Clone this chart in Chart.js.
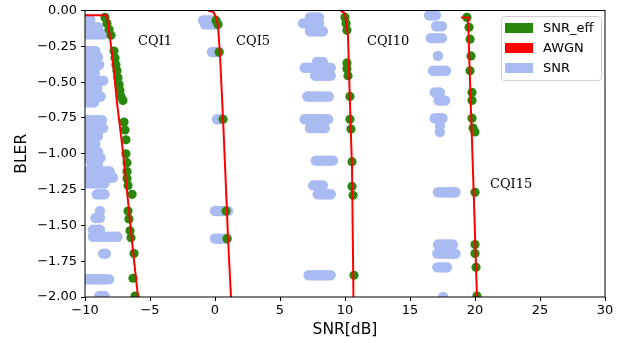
<!DOCTYPE html>
<html><head><meta charset="utf-8">
<script src="https://cdn.jsdelivr.net/npm/chart.js@4"></script>
<style>html,body{margin:0;padding:0;background:#fff;}</style>
</head><body>
<canvas id="c" width="631" height="343"></canvas>
<script>
// ---------- data ----------
const xTicks = [-10, -5, 0, 5, 10, 15, 20, 25, 30];
const yTicks = [0, -0.25, -0.5, -0.75, -1, -1.25, -1.5, -1.75, -2];
const legendNames = ['SNR_eff', 'AWGN', 'SNR'];

// SNR_eff (green)
const snrEffX = [
  -8.46,-8.31,-8.15,-8.0,-7.77,-7.69,-7.62,-7.54,-7.46,-7.38,-7.31,-7.23,-7.08,-7.0,-6.92,-6.85,-6.85,-6.77,-6.77,-6.77,-6.69,-6.38,-6.69,-6.62,-6.54,-6.46,-6.23,-6.31,-6.15,
  0.08,0.23,0.31,0.62,0.85,0.92,
  10.0,10.08,10.15,10.15,10.15,10.23,10.38,10.38,10.46,10.54,10.54,10.62,10.69,
  19.38,19.54,19.62,19.69,19.62,19.77,19.77,19.77,19.85,20.0,20.0,20.0,20.0,20.08,20.15
];
const snrEffY = [
  -0.048,-0.09,-0.131,-0.172,-0.283,-0.331,-0.379,-0.421,-0.469,-0.517,-0.559,-0.6,-0.628,-0.779,-0.834,-0.903,-1.0,-1.062,-1.124,-1.172,-1.221,-1.283,-1.4,-1.455,-1.538,-1.586,-1.697,-1.869,-1.993,
  -0.069,-0.097,-0.29,-0.759,-1.40,-1.593,
  -0.048,-0.09,-0.138,-0.366,-0.407,-0.455,-0.6,-0.759,-0.828,-1.055,-1.228,-1.29,-1.848,
  -0.048,-0.117,-0.2,-0.317,-0.421,-0.572,-0.628,-0.752,-0.821,-0.848,-1.269,-1.634,-1.697,-1.793,-1.993
];

// AWGN (red), one curve per CQI
const awgnCqi1X  = [-10.0,-8.31,-7.92,-7.54,-7.08,-6.69,-6.31,-5.92];
const awgnCqi1Y  = [-0.034,-0.034,-0.297,-0.641,-0.986,-1.331,-1.676,-2.0];
const awgnCqi5X  = [-0.52,-0.13,0.1,0.23,0.38,0.62,0.92,1.0,1.23];
const awgnCqi5Y  = [0.0,-0.01,-0.05,-0.11,-0.3,-0.76,-1.4,-1.59,-2.0];
const awgnCqi10X = [9.62,10.0,10.23,10.38,10.54,10.65];
const awgnCqi10Y = [0.0,-0.02,-0.18,-0.64,-1.10,-2.0];
const awgnCqi15X = [18.92,19.46,19.67,19.92,20.15];
const awgnCqi15Y = [-0.048,-0.048,-0.64,-1.33,-2.0];

// SNR (light blue): rows of samples sharing the same BLER value
const snrRowY = [
  -0.062,-0.117,-0.166,-0.283,-0.324,-0.379,-0.434,-0.49,-0.545,-0.6,-0.641,-0.766,-0.821,-0.876,-0.931,-0.986,-1.028,-1.069,-1.124,-1.166,-1.207,-1.283,-1.4,-1.448,-1.531,-1.579,-1.697,-1.876,-1.993,
  -0.069,-0.097,-0.29,-0.759,-1.4,-1.593,
  -0.048,-0.09,-0.145,-0.359,-0.4,-0.455,-0.6,-0.759,-0.821,-1.048,-1.221,-1.283,-1.848,
  -0.034,-0.11,-0.193,-0.317,-0.421,-0.572,-0.628,-0.752,-0.807,-0.848,-1.269,-1.634,-1.697,-1.793,-2.0
];
const snrRowX = [
  [-10,-9.8,-9.6],
  [-10,-9.8,-9.6,-9.4,-9.2,-9.0],
  [-10,-9.8,-9.6,-9.4,-9.2,-9.0,-8.8,-8.6],
  [-10,-9.8,-9.6,-9.4,-9.2],
  [-10,-9.8,-9.6,-9.4,-9.2,-9.0],
  [-10,-9.8,-9.6,-9.4,-9.2,-9.0,-8.9],
  [-10,-9.8,-9.6,-9.4,-9.25],
  [-10,-9.8,-9.6,-9.4,-9.2,-9.0,-8.8,-8.6],
  [-10,-9.8,-9.6,-9.4,-9.2,-9.05],
  [-10,-9.8,-9.6,-9.4,-9.2,-9.0,-8.8],
  [-10,-9.8,-9.6,-9.4,-9.3],
  [-10,-9.8,-9.6,-9.4,-9.2,-9.0,-8.8,-8.7],
  [-10,-9.8,-9.6,-9.4,-9.2,-9.0,-8.8,-8.6],
  [-10,-9.8,-9.6,-9.4,-9.2,-9.0],
  [-10,-9.8,-9.6,-9.4,-9.2],
  [-10,-9.8,-9.6,-9.4,-9.2,-9.0],
  [-10,-9.8,-9.6,-9.4,-9.2,-9.0,-8.8],
  [-9.5,-9.35,-9.2,-9.0],
  [-10,-9.8,-9.6,-9.4,-9.2,-9.0,-8.8,-8.6,-8.4,-8.2,-8.1],
  [-10,-9.8,-9.6,-9.4,-9.2,-9.0,-8.8,-8.6,-8.4,-8.2,-8.0,-7.85],
  [-10,-9.8,-9.6,-9.4,-9.2,-9.0,-8.8,-8.6,-8.5],
  [-9.1,-8.9,-8.7,-8.5],
  [-8.85],
  [-9.2,-9.0,-8.85],
  [-9.4,-9.2,-9.0,-8.85],
  [-9.4,-9.2,-9.0,-8.8,-8.6,-8.4,-8.2,-8.0,-7.8,-7.6,-7.5],
  [-8.6,-8.4],
  [-10,-9.8,-9.6,-9.4,-9.2,-9.0,-8.8,-8.6,-8.4,-8.15],
  [-8.9,-8.7,-8.5],
  [-0.92,-0.75,-0.55,-0.35,-0.15],
  [-0.77,-0.6,-0.4,-0.2,0.0,0.15],
  [-0.23,-0.05,0.1,0.3],
  [0.15,0.38],
  [0.0,0.2,0.35,0.5,0.7,0.85,1.0],
  [0.0,0.2,0.35,0.5,0.7,0.92],
  [7.3,7.5,7.65,7.8,8.0],
  [6.77,6.95,7.1,7.3,7.45,7.6,7.8,8.0],
  [7.3,7.5,7.65,7.8,8.0,8.15,8.3],
  [7.85,8.05,8.3],
  [6.9,7.1,7.3,7.5,7.7,7.9,8.1,8.3,8.5,8.7,8.9],
  [7.7,7.9,8.1,8.3,8.5,8.7,8.9],
  [7.1,7.3,7.5,7.7,7.9,8.1,8.3,8.5,8.75],
  [6.9,7.1,7.3,7.5,7.7,7.9,8.1,8.25,8.4,8.55,8.7],
  [7.3,7.5,7.7,7.9,8.1,8.3,8.45],
  [7.75,7.95,8.15,8.35,8.55,8.75,8.9,9.08],
  [7.55,7.75,7.9,8.1,8.3],
  [7.9,8.1,8.3,8.45,8.6,8.75,8.9],
  [7.2,7.4,7.6,7.8,8.0,8.2,8.4,8.6,8.9],
  [16.46,16.65,16.8,17.0],
  [17.0,17.2,17.46],
  [16.6,16.8,17.0,17.2,17.46],
  [17.15],
  [16.77,16.95,17.15,17.35,17.6,17.77],
  [16.9,17.1,17.3],
  [17.2,17.45,17.7],
  [16.9,17.1,17.25,17.5],
  [17.3],
  [17.3],
  [17.15,17.35,17.5,17.7,17.9,18.05,18.2,18.35,18.5],
  [17.15,17.35,17.5,17.7,17.9,18.1,18.3],
  [17.1,17.3,17.5,17.7,17.9,18.05,18.2,18.35,18.5],
  [17.1,17.3,17.5,17.7,17.85],
  [17.55]
];

// curve labels
const cqiNames = ['CQI1', 'CQI5', 'CQI10', 'CQI15'];
const cqiLabelX = [-5.92, 1.62, 11.69, 21.15];
const cqiLabelY = [-0.214, -0.214, -0.214, -1.214];

// ---------- build ----------
const GREEN = 'rgb(42,135,12)';
const RED = '#ff0000';
const BLUE = 'rgb(170,187,242)';
const zip = (xs, ys) => xs.map((x, i) => ({x, y: ys[i]}));
const snrPts = [];
snrRowY.forEach((y, i) => snrRowX[i].forEach(x => snrPts.push({x, y})));

const awgnSets = [[awgnCqi1X,awgnCqi1Y],[awgnCqi5X,awgnCqi5Y],[awgnCqi10X,awgnCqi10Y],[awgnCqi15X,awgnCqi15Y]].map(([xs, ys]) => ({
  label: 'AWGN', data: zip(xs, ys), showLine: true, borderColor: RED, borderWidth: 2,
  pointRadius: 0, pointHoverRadius: 0, order: 0, clip: 0, tension: 0
}));

const fmt = v => (v < 0 ? '\u2212' : '') + Math.abs(v);
const fmt2 = v => (v < -1e-9 ? '\u2212' : '') + Math.abs(v).toFixed(2);

const framePlugin = {
  id: 'frame',
  afterDatasetsDraw(chart) {
    const {ctx, chartArea: a, scales} = chart;
    ctx.save();
    ctx.strokeStyle = '#000';
    ctx.lineWidth = 1;
    ctx.strokeRect(a.left, a.top, a.right - a.left, a.bottom - a.top);
    // curve labels
    ctx.fillStyle = '#000';
    ctx.font = '13px "DejaVu Serif"';
    ctx.textAlign = 'left';
    ctx.textBaseline = 'middle';
    cqiNames.forEach((t, i) => {
      ctx.fillText(t, scales.x.getPixelForValue(cqiLabelX[i]), scales.y.getPixelForValue(cqiLabelY[i]));
    });
    // legend
    const colors = [GREEN, RED, BLUE];
    const w = 100, h = 64;
    const bx = a.right - 4 - w, by = a.top + 5.5;
    ctx.beginPath();
    if (ctx.roundRect) ctx.roundRect(bx + 0.5, by + 0.5, w, h, 3); else ctx.rect(bx + 0.5, by + 0.5, w, h);
    ctx.fillStyle = 'rgba(255,255,255,0.85)';
    ctx.fill();
    ctx.strokeStyle = '#d0d0d0';
    ctx.stroke();
    ctx.font = '13px "DejaVu Sans"';
    legendNames.forEach((t, i) => {
      const cy = by + 12 + i * 20;
      ctx.fillStyle = colors[i];
      ctx.fillRect(bx + 4, cy - 5, 28, 10);
      ctx.fillStyle = '#000';
      ctx.fillText(t, bx + 42, cy + 0.5);
    });
    ctx.restore();
  }
};

new Chart(document.getElementById('c'), {
  type: 'scatter',
  data: {
    datasets: [
      ...awgnSets,
      { label: 'SNR_eff', data: zip(snrEffX, snrEffY), backgroundColor: GREEN, borderWidth: 0,
        pointRadius: 4.6, pointHoverRadius: 4.6, order: 1, clip: 0 },
      { label: 'SNR', data: snrPts, backgroundColor: BLUE, borderWidth: 0,
        pointRadius: 5.2, pointHoverRadius: 5.2, order: 2, clip: 0 }
    ]
  },
  options: {
    responsive: false,
    animation: false,
    events: [],
    layout: { padding: { top: 7, right: 26, left: 0, bottom: 0 } },
    plugins: { legend: { display: false }, tooltip: { enabled: false } },
    scales: {
      x: {
        type: 'linear', min: -10, max: 30,
        afterBuildTicks: s => { s.ticks = xTicks.map(v => ({value: v})); },
        ticks: { color: '#000', font: { family: 'DejaVu Sans', size: 13, lineHeight: 1.0 }, padding: 3, callback: fmt, maxRotation: 0 },
        grid: { drawOnChartArea: false, drawTicks: true, tickLength: 4, tickColor: '#000' },
        border: { display: false },
        title: { display: true, text: 'SNR[dB]', color: '#000', font: { family: 'DejaVu Sans', size: 15.5 }, padding: { top: 0, bottom: 3.7 } },
        afterFit: s => { s.height = 46; }
      },
      y: {
        type: 'linear', min: -2, max: 0,
        afterBuildTicks: s => { s.ticks = yTicks.map(v => ({value: v})); },
        ticks: { color: '#000', font: { family: 'DejaVu Sans', size: 13, lineHeight: 1.0 }, padding: 4, callback: fmt2 },
        grid: { drawOnChartArea: false, drawTicks: true, tickLength: 4, tickColor: '#000' },
        border: { display: false },
        title: { display: true, text: 'BLER', color: '#000', font: { family: 'DejaVu Sans', size: 15.5 }, padding: { top: 12.7, bottom: 0 } },
        afterFit: s => { s.width = 85; }
      }
    }
  },
  plugins: [framePlugin]
});
</script>
</body></html>
